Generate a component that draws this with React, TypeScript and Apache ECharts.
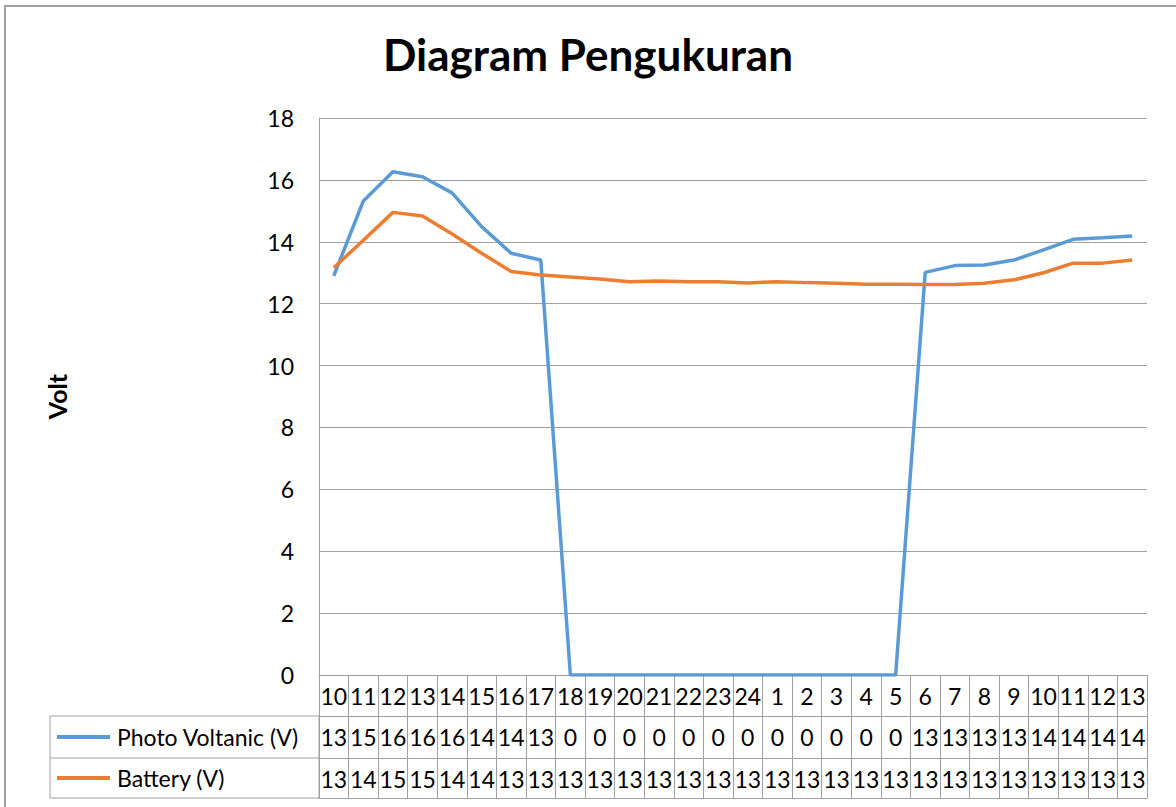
import React, { useEffect, useRef } from "react";
import * as echarts from "echarts";

const hours = ["10","11","12","13","14","15","16","17","18","19","20","21","22","23","24","1","2","3","4","5","6","7","8","9","10","11","12","13"];
const pvValues = [12.9,15.32,16.26,16.1,15.58,14.49,13.63,13.41,0,0,0,0,0,0,0,0,0,0,0,0,13.01,13.23,13.25,13.41,13.74,14.08,14.13,14.19];
const batteryValues = [13.16,14.05,14.95,14.83,14.25,13.63,13.04,12.93,12.86,12.8,12.71,12.73,12.71,12.71,12.67,12.71,12.68,12.66,12.63,12.63,12.62,12.62,12.66,12.77,13.0,13.31,13.31,13.41];
const yTicks = { min: 0, max: 18, interval: 2 };
const seriesNames = ["Photo Voltanic (V)", "Battery (V)"];
const titleText = "Diagram Pengukuran";
const yName = "Volt";

const FONT = "Lato";
const GRAY = "#a0a0a0";
const PV_COLOR = "#5B9BD5";
const BAT_COLOR = "#ED7D31";

export default function App() {
  const ref = useRef<HTMLDivElement>(null);
  useEffect(() => {
    if (!ref.current) return;
    const chart = echarts.init(ref.current, undefined, { renderer: "svg" });
    const gridLeft = 319, gridRight = 1147, gridTop = 118, gridBottom = 675;
    const row1 = 41, row2 = 83, row3 = 123;
    const labelStyle = { fontFamily: FONT, fontSize: 23, color: "#000" };
    const tableAxis = (offset: number, tickLen: number, fmt: ((v: string, i: number) => string) | null) => ({
      type: "category",
      data: hours,
      boundaryGap: true,
      position: "bottom",
      offset,
      axisLine: { show: true, lineStyle: { color: GRAY, width: 1 } },
      axisTick: { show: tickLen > 0, interval: 0, length: tickLen, lineStyle: { color: GRAY, width: 1 } },
      axisLabel: fmt
        ? { show: true, interval: 0, margin: 9, ...labelStyle, formatter: fmt }
        : { show: false },
      splitLine: { show: false },
    });
    const option: any = {
      animation: false,
      backgroundColor: "#fff",
      title: {
        text: titleText,
        left: "center",
        top: 27,
        textStyle: { fontFamily: FONT, fontWeight: "bold", fontSize: 44, color: "#000" },
      },
      grid: {
        left: gridLeft,
        top: gridTop,
        width: gridRight - gridLeft,
        height: gridBottom - gridTop,
        containLabel: false,
      },
      legend: [
        {
          data: [seriesNames[0]],
          left: 57,
          top: 724,
          padding: 0,
          itemWidth: 53,
          itemHeight: 4,
          itemGap: 0,
          icon: "rect",
          textStyle: { ...labelStyle, lineHeight: 26, padding: [0, 0, 0, 2] },
        },
        {
          data: [seriesNames[1]],
          left: 57,
          top: 765,
          padding: 0,
          itemWidth: 53,
          itemHeight: 4,
          itemGap: 0,
          icon: "rect",
          textStyle: { ...labelStyle, lineHeight: 26, padding: [0, 0, 0, 2] },
        },
      ],
      xAxis: [
        tableAxis(0, row1, (v: string) => v),
        tableAxis(row1, row2 - row1, (_v: string, i: number) => String(Math.round(pvValues[i]))),
        tableAxis(row2, row3 - row2, (_v: string, i: number) => String(Math.round(batteryValues[i]))),
        tableAxis(row3, 0, null),
      ],
      yAxis: {
        type: "value",
        min: yTicks.min,
        max: yTicks.max,
        interval: yTicks.interval,
        name: yName,
        nameLocation: "middle",
        nameRotate: 90,
        nameGap: 250,
        nameTextStyle: { fontFamily: FONT, fontWeight: "bold", fontSize: 25, color: "#000" },
        axisLine: { show: true, lineStyle: { color: GRAY, width: 1 } },
        axisTick: { show: false },
        axisLabel: { ...labelStyle, margin: 25 },
        splitLine: { show: true, lineStyle: { color: GRAY, width: 1 } },
      },
      series: [
        {
          name: seriesNames[0],
          type: "line",
          data: pvValues,
          xAxisIndex: 0,
          symbol: "none",
          lineStyle: { color: PV_COLOR, width: 3.5 },
          itemStyle: { color: PV_COLOR },
        },
        {
          name: seriesNames[1],
          type: "line",
          data: batteryValues,
          xAxisIndex: 0,
          symbol: "none",
          lineStyle: { color: BAT_COLOR, width: 3.5 },
          itemStyle: { color: BAT_COLOR },
        },
      ],
      graphic: [
        {
          type: "rect",
          shape: { x: 5, y: 6, width: 1300, height: 900 },
          style: { fill: "none", stroke: GRAY, lineWidth: 2 },
          silent: true,
        },
        {
          type: "rect",
          shape: { x: 50, y: gridBottom + row1, width: gridLeft - 50, height: row3 - row1 },
          style: { fill: "none", stroke: GRAY, lineWidth: 1 },
          silent: true,
        },
        {
          type: "line",
          shape: { x1: 50, y1: gridBottom + row2, x2: gridLeft, y2: gridBottom + row2 },
          style: { stroke: GRAY, lineWidth: 1 },
          silent: true,
        },
      ],
    };
    chart.setOption(option);
    return () => chart.dispose();
  }, []);
  return (
    <div
      ref={ref}
      style={{ position: "fixed", left: 0, top: 0, width: 1176, height: 807, background: "#fff" }}
    />
  );
}
